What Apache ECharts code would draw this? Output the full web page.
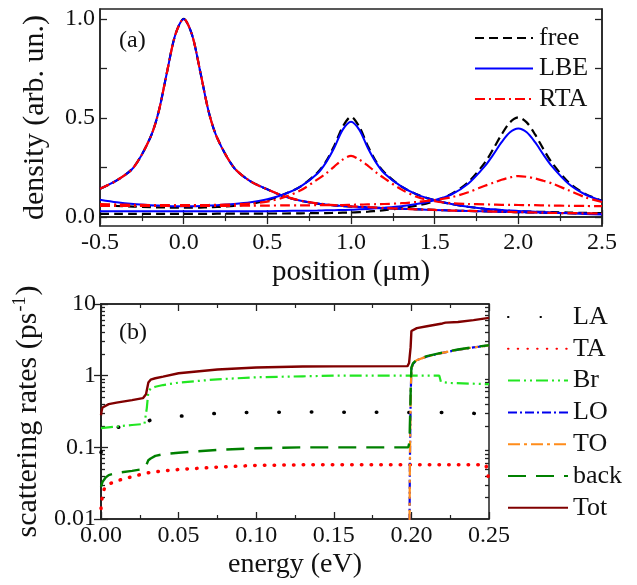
<!DOCTYPE html>
<html><head><meta charset="utf-8">
<script src="https://cdn.jsdelivr.net/npm/echarts@6/dist/echarts.min.js"></script>
<style>html,body{margin:0;padding:0;background:#fff}#c{width:637px;height:585px}</style>
</head><body><div id="c"></div>
<script>
// ---------- panel (a): density vs position ----------
const posX = [-0.5,-0.4,-0.3,-0.2,-0.15,-0.1,-0.05,0,0.05,0.1,0.15,0.2,0.3,0.4,0.5,0.6,0.7,0.8,0.85,0.9,0.95,1.0,1.05,1.1,1.15,1.2,1.3,1.4,1.5,1.6,1.7,1.8,1.85,1.9,1.95,2.0,2.05,2.1,2.15,2.2,2.3,2.4,2.5];
const free0 = [0.143,0.185,0.25,0.40,0.53,0.73,0.92,1.0,0.92,0.73,0.53,0.40,0.25,0.18,0.14,0.105,0.082,0.068,0.063,0.059,0.056,0.053,0.051,0.049,0.047,0.045,0.042,0.039,0.036,0.033,0.031,0.029,0.028,0.027,0.026,0.025,0.024,0.023,0.022,0.021,0.02,0.018,0.017];
const free1 = [0.062,0.057,0.053,0.05,0.049,0.048,0.047,0.047,0.047,0.048,0.049,0.051,0.056,0.066,0.085,0.115,0.155,0.225,0.28,0.36,0.455,0.506,0.455,0.36,0.28,0.225,0.155,0.112,0.085,0.066,0.052,0.042,0.038,0.035,0.032,0.03,0.028,0.027,0.026,0.025,0.023,0.021,0.02];
const free2 = [0.016,0.016,0.016,0.016,0.016,0.016,0.016,0.016,0.016,0.016,0.016,0.017,0.017,0.017,0.018,0.018,0.019,0.02,0.02,0.021,0.022,0.023,0.025,0.027,0.031,0.035,0.045,0.059,0.081,0.117,0.176,0.275,0.343,0.417,0.478,0.503,0.478,0.417,0.343,0.275,0.176,0.117,0.083];
const lbe0 = [0.143,0.185,0.25,0.40,0.53,0.73,0.92,1.0,0.92,0.73,0.53,0.40,0.25,0.18,0.14,0.105,0.082,0.068,0.063,0.059,0.056,0.053,0.051,0.049,0.047,0.045,0.042,0.039,0.036,0.033,0.031,0.029,0.028,0.027,0.026,0.025,0.024,0.023,0.022,0.021,0.02,0.018,0.016];
const lbe1 = [0.088,0.075,0.066,0.06,0.058,0.056,0.055,0.055,0.055,0.056,0.058,0.06,0.066,0.075,0.09,0.115,0.155,0.22,0.275,0.35,0.44,0.481,0.44,0.35,0.275,0.22,0.155,0.112,0.085,0.066,0.052,0.042,0.039,0.036,0.033,0.031,0.029,0.027,0.025,0.023,0.019,0.016,0.013];
const lbe2 = [0.03,0.03,0.03,0.03,0.03,0.03,0.03,0.03,0.03,0.03,0.03,0.03,0.03,0.03,0.03,0.031,0.032,0.033,0.034,0.035,0.036,0.037,0.039,0.041,0.044,0.047,0.055,0.067,0.085,0.114,0.168,0.257,0.315,0.378,0.428,0.447,0.428,0.378,0.315,0.257,0.168,0.114,0.082];
const rta0 = [0.143,0.185,0.25,0.40,0.53,0.73,0.92,1.0,0.92,0.73,0.53,0.40,0.25,0.18,0.14,0.106,0.083,0.069,0.064,0.06,0.057,0.054,0.052,0.05,0.048,0.046,0.042,0.039,0.036,0.033,0.031,0.029,0.028,0.027,0.026,0.025,0.024,0.023,0.022,0.021,0.02,0.019,0.018];
const rta1 = [0.066,0.064,0.062,0.061,0.06,0.06,0.06,0.06,0.06,0.06,0.061,0.062,0.064,0.068,0.078,0.1,0.135,0.19,0.22,0.255,0.29,0.309,0.29,0.26,0.225,0.195,0.14,0.1,0.08,0.07,0.066,0.064,0.063,0.062,0.062,0.061,0.06,0.06,0.059,0.058,0.057,0.056,0.055];
const rta2 = [0.056,0.056,0.056,0.056,0.056,0.056,0.056,0.056,0.056,0.056,0.056,0.057,0.057,0.058,0.058,0.059,0.059,0.06,0.06,0.061,0.061,0.062,0.063,0.064,0.065,0.066,0.07,0.077,0.086,0.1,0.125,0.158,0.173,0.188,0.2,0.207,0.203,0.195,0.183,0.17,0.135,0.1,0.076];
const yTicksA = [0, 0.25, 0.5, 0.75, 1.0];
const yLabelsA = [0, 0.5, 1.0];

// ---------- panel (b): scattering rates vs energy ----------
const LA = [[0,0.085],[0.003,0.14],[0.006,0.17],[0.011,0.19],[0.02,0.205],[0.029,0.215],[0.031,0.235],[0.033,0.245],[0.04,0.258],[0.054,0.276],[0.075,0.298],[0.097,0.307],[0.118,0.31],[0.14,0.31],[0.16,0.308],[0.2,0.307],[0.224,0.305],[0.24,0.298],[0.25,0.288]];
const TA = [[0,0.014],[0.0005,0.018],[0.001,0.022],[0.002,0.026],[0.004,0.03],[0.01,0.034],[0.02,0.039],[0.03,0.044],[0.04,0.047],[0.05,0.049],[0.075,0.053],[0.1,0.056],[0.13,0.057],[0.2,0.057],[0.248,0.057],[0.249,0.045],[0.25,0.034]];
const Br = [[0,0.185],[0.01,0.195],[0.02,0.205],[0.028,0.212],[0.029,0.22],[0.0295,0.35],[0.0305,0.6],[0.032,0.66],[0.035,0.7],[0.04,0.74],[0.05,0.8],[0.075,0.89],[0.1,0.95],[0.13,0.98],[0.15,1.0],[0.2,1.0],[0.218,1.0],[0.219,0.82],[0.225,0.79],[0.25,0.76]];
const LO = [[0.1985,0.001],[0.1988,0.01],[0.199,0.05],[0.1993,0.2],[0.1996,0.6],[0.2,1.25],[0.201,1.45],[0.2033,1.64],[0.21,1.85],[0.22,2.08],[0.23,2.3],[0.24,2.48],[0.25,2.64]];
const TO = [[0.1985,0.001],[0.1988,0.01],[0.199,0.05],[0.1993,0.2],[0.1996,0.6],[0.2,1.25],[0.201,1.45],[0.2033,1.64],[0.21,1.85],[0.22,2.08],[0.23,2.3],[0.24,2.48],[0.25,2.64]];
const back = [[0,0.028],[0.001,0.033],[0.003,0.038],[0.005,0.041],[0.01,0.044],[0.02,0.047],[0.028,0.05],[0.029,0.055],[0.0305,0.066],[0.032,0.07],[0.035,0.076],[0.04,0.08],[0.05,0.084],[0.075,0.092],[0.1,0.097],[0.13,0.1],[0.15,0.1],[0.198,0.1],[0.1988,0.12],[0.199,0.2],[0.1993,0.35],[0.1996,0.7],[0.2,1.3],[0.201,1.48],[0.2033,1.66],[0.21,1.87],[0.22,2.1],[0.23,2.32],[0.24,2.5],[0.25,2.66]];
const Tot = [[0,0.28],[0.0005,0.33],[0.001,0.36],[0.002,0.375],[0.005,0.4],[0.01,0.42],[0.02,0.455],[0.027,0.485],[0.028,0.49],[0.029,0.55],[0.0305,0.8],[0.032,0.88],[0.035,0.92],[0.04,0.97],[0.05,1.08],[0.075,1.22],[0.1,1.3],[0.13,1.34],[0.15,1.35],[0.1975,1.36],[0.1985,1.5],[0.1995,2.5],[0.2,4.2],[0.2035,4.6],[0.21,4.9],[0.22,5.35],[0.222,5.5],[0.23,5.6],[0.24,5.95],[0.25,6.4]];
const yMinorB = [0.02,0.03,0.04,0.05,0.06,0.07,0.08,0.09,0.2,0.3,0.4,0.5,0.6,0.7,0.8,0.9,2,3,4,5,6,7,8,9];

// ---------- chart ----------
const FONT = 'Liberation Serif';
const INK = '#111';
function zip(xs, ys){ return xs.map((x,i)=>[x, ys[i]]); }
function tickStyle(len){ return {show:true, inside:true, length:len, lineStyle:{color:'#222', width:1.3}}; }

function xA(grid, pos, min, max, interval, digits, name, nameSize){
  return {
    type:'value', gridIndex:grid, position:pos, min:min, max:max, interval:interval,
    axisLine:{show:true, lineStyle:{color:'#222', width:1.5}},
    axisTick:tickStyle(7),
    minorTick:{show:true, splitNumber:2, length:4, lineStyle:{color:'#222', width:1.2}},
    splitLine:{show:false}, minorSplitLine:{show:false},
    axisLabel:{show: pos==='bottom', margin:5, fontFamily:FONT, fontSize:24, color:INK,
      formatter:v=>v.toFixed(digits)},
    name: pos==='bottom'? name : '', nameLocation:'middle', nameGap:32,
    nameTextStyle:{fontFamily:FONT, fontSize:nameSize || 28, color:INK}
  };
}
function yA_lin(pos){
  return {
    type:'value', gridIndex:0, position:pos, min:-0.045, max:1.05,
    axisLine:{show:true, onZero:false, lineStyle:{color:'#222', width:1.5}},
    axisTick:Object.assign(tickStyle(7), {customValues:yTicksA}),
    splitLine:{show:false},
    axisLabel:{show: pos==='left', customValues:yLabelsA, margin:5, fontFamily:FONT, fontSize:24, color:INK,
      formatter:v=>v.toFixed(1)},
    name: pos==='left' ? 'density (arb. un.)' : '', nameLocation:'middle', nameGap:50, nameRotate:90,
    nameTextStyle:{fontFamily:FONT, fontSize:30, color:INK}
  };
}
function yA_log(pos, minor){
  const a = {
    type:'log', logBase:10, gridIndex:1, position:pos, min:0.01, max:10,
    axisLine:{show:!minor, lineStyle:{color:'#222', width:1.5}},
    axisTick:tickStyle(minor?4:7),
    splitLine:{show:false},
    axisLabel:{show: (pos==='left' && !minor), margin:5, fontFamily:FONT, fontSize:24, color:INK,
      formatter:v=>String(Number(v.toPrecision(3)))},
    name: (pos==='left' && !minor) ? 'scattering rates (ps{sup|-1})' : '',
    nameLocation:'middle', nameGap:50, nameRotate:90,
    nameTextStyle:{fontFamily:FONT, fontSize:30, color:INK, rich:{sup:{fontFamily:FONT, fontSize:18, color:INK, verticalAlign:'top', padding:[0,1,15,1]}}}
  };
  if (minor) a.axisTick.customValues = yMinorB;
  return a;
}

const styA = {
  free:{color:'#000', type:[9,5], width:2.2},
  LBE:{color:'#0000ff', type:'solid', width:2},
  RTA:{color:'#ff0000', type:[10,4,2,4], width:2.2}
};
function sA(name, ys){
  return {type:'line', name:name, xAxisIndex:0, yAxisIndex:0, data:zip(posX, ys), showSymbol:false, symbol:'none',
    smooth:0.3, lineStyle:Object.assign({}, styA[name]), itemStyle:{color:styA[name].color}, animation:false, z:3};
}
function sB(name, data, ls){
  return {type:'line', name:name, xAxisIndex:2, yAxisIndex:2, data:data, symbol:'none', showSymbol:false,
    lineStyle:Object.assign({cap:'round'}, ls), itemStyle:{color:ls.color}, animation:false, clip:true};
}

const option = {
  animation:false,
  backgroundColor:'#fff',
  textStyle:{fontFamily:FONT},
  grid:[
    {left:100, top:9, width:502, height:217, show:true, borderColor:'#222', borderWidth:1.5, backgroundColor:'transparent'},
    {left:101, top:304, width:388, height:215, show:true, borderColor:'#222', borderWidth:1.5, backgroundColor:'transparent'}
  ],
  xAxis:[
    xA(0,'bottom',-0.5,2.5,0.5,1,'position (μm)',29),
    xA(0,'top',-0.5,2.5,0.5,1,''),
    xA(1,'bottom',0,0.25,0.05,2,'energy (eV)',28),
    xA(1,'top',0,0.25,0.05,2,'')
  ],
  yAxis:[
    yA_lin('left'), yA_lin('right'),
    yA_log('left',false), yA_log('right',false),
    yA_log('left',true), yA_log('right',true)
  ],
  legend:[
    {data:['free','LBE','RTA'], orient:'vertical', left:469, top:20, itemWidth:58, itemHeight:12, itemGap:4.5,
     selectedMode:false, itemStyle:{opacity:0},
     textStyle:{fontFamily:FONT, fontSize:26, lineHeight:26, color:INK, padding:[0,0,0,1]}},
    {data:['LA','TA','Br','LO','TO','back','Tot'], orient:'vertical', left:502, top:299, itemWidth:60, itemHeight:12, itemGap:5.8,
     selectedMode:false, itemStyle:{opacity:0},
     textStyle:{fontFamily:FONT, fontSize:26, lineHeight:26, color:INK}}
  ],
  graphic:[
    {type:'text', left:119, top:29, style:{text:'(a)', font:'24px "Liberation Serif"', fill:INK}},
    {type:'text', left:119, top:321, style:{text:'(b)', font:'24px "Liberation Serif"', fill:INK}}
  ],
  series:[
    sA('free', free0), sA('free', free1), sA('free', free2),
    sA('LBE', lbe0), sA('LBE', lbe1), sA('LBE', lbe2),
    sA('RTA', rta0), sA('RTA', rta1), sA('RTA', rta2),
    sB('LA', LA, {color:'#000', type:[0.5,32], width:3.5}),
    sB('TA', TA, {color:'#ff0000', type:[0.5,9.2], width:3.5}),
    sB('Br', Br, {color:'#22e622', type:[12,4,2,4,2,4], width:2.2, cap:'butt'}),
    sB('LO', LO, {color:'#0000ee', type:[9,3,2,3], width:2.2, cap:'butt'}),
    sB('TO', TO, {color:'#ff8c1a', type:[12,4,3,4], width:2.2, cap:'butt'}),
    sB('back', back, {color:'#008000', type:[18,10], width:2.4, cap:'butt'}),
    sB('Tot', Tot, {color:'#800000', type:'solid', width:2.4, cap:'butt'})
  ]
};
const chart = echarts.init(document.getElementById('c'), null, {renderer:'canvas'});
chart.setOption(option);
</script></body></html>
